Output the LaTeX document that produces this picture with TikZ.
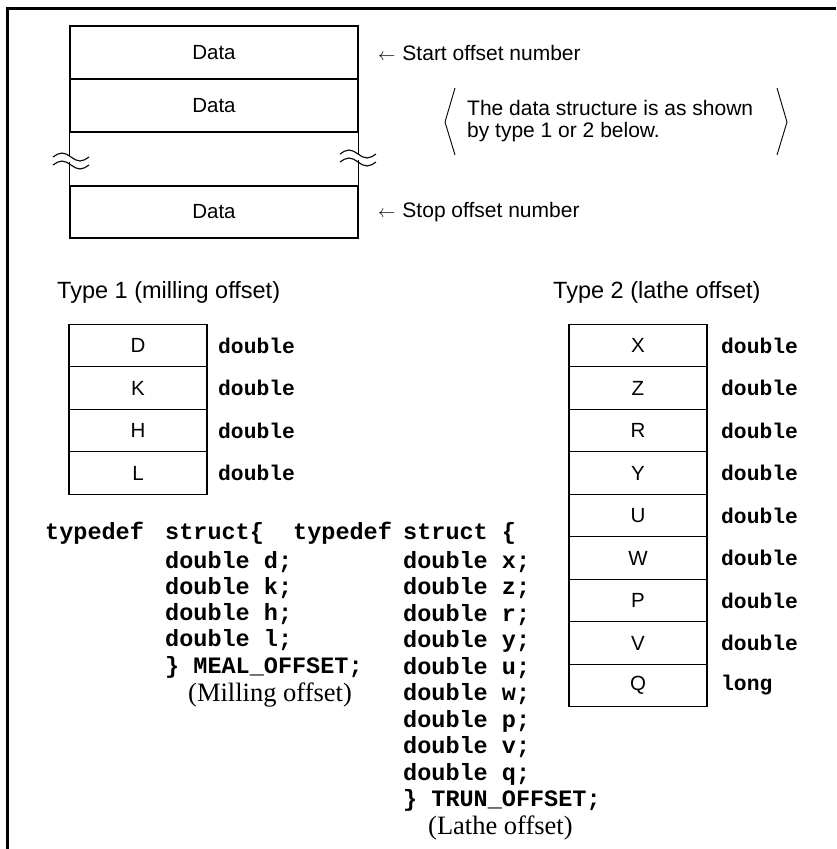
\documentclass[tikz,border=0pt]{standalone}
\usepackage{fontspec}
\setmainfont{Liberation Sans}
\newfontfamily\codefont{Liberation Mono}
\newfontfamily\seriffont{Liberation Serif}
\begin{document}
\begin{tikzpicture}[x=1pt,y=-1pt,
  bigcell/.style={draw, line width=1.1pt, minimum width=288pt, minimum height=53pt, inner sep=0pt, font=\fontsize{20.5}{24}\selectfont},
  cell/.style={draw, line width=1.1pt, minimum width=138pt, minimum height=42.5pt, inner sep=0pt, font=\fontsize{20.5}{24}\selectfont},
  body/.style={inner sep=0pt, anchor=west, font=\fontsize{21}{22}\selectfont},
  head/.style={inner sep=0pt, anchor=west, font=\fontsize{23.5}{26}\selectfont},
  tlabel/.style={inner sep=0pt, anchor=west, font=\codefont\bfseries\fontsize{21.3}{24}\selectfont},
  code/.style={inner sep=0pt, anchor=base west, font=\codefont\bfseries\fontsize{23.5}{26}\selectfont},
  cmt/.style={inner sep=0pt, anchor=base west, font=\seriffont\fontsize{26.5}{28}\selectfont},
  thin/.style={line width=1.1pt}
]
\useasboundingbox (0,0) rectangle (836,849);
\draw[line width=2.5pt] (7.5,849) -- (7.5,8.5) -- (836,8.5);

% top structure
\node[bigcell] (d1) at (214,52.5) {Data};
\node[bigcell] (d2) at (214,105.5) {Data};
\node[bigcell, minimum height=52pt] (d4) at (214,212) {Data};
\draw[thin] (d2.south west) -- ++(0,23);
\draw[thin] (d4.north west) -- ++(0,-23);
\draw[thin] (d2.south east) -- ++(0,21);
\draw[thin] (d4.north east) -- ++(0,-25);
% break marks
\draw[thin] (53,157) sin (62,153) cos (71,157) sin (80,161) cos (89,157);
\draw[thin] (53,165) sin (62,161) cos (71,165) sin (80,169) cos (89,165);
\draw[thin] (340,154) sin (349,150) cos (358,154) sin (367,158) cos (376,154);
\draw[thin] (340,162) sin (349,158) cos (358,162) sin (367,166) cos (376,162);

\node[body] (start) at (378,53) {{\fontsize{17}{17}\selectfont$\leftarrow$}\hspace{7pt}Start offset number};
\node[body] (stop) at (378,212) {{\fontsize{17}{17}\selectfont$\leftarrow$}\hspace{7pt}Stop offset number};
\node[body, align=left] (note) at (467,121) {The data structure is as shown\\by type 1 or 2 below.};
\draw[line width=0.9pt] (455,88) -- (445,122) -- (455,155);
\draw[line width=0.9pt] (777,88) -- (787,122) -- (777,155);

% type 1
\node[head] (h1) at (57,292) {Type 1 (milling offset)};
\node[cell] (D) at (138,345.5) {D};
\node[cell] (K) at (138,388) {K};
\node[cell] (H) at (138,430.5) {H};
\node[cell] (L) at (138,473) {L};
\foreach \n/\yy in {D/345.5,K/388,H/430.5,L/473}
  \node[tlabel] (t\n) at (218,\yy) {double};

% type 2
\node[head] (h2) at (553,292) {Type 2 (lathe offset)};
\foreach \n [count=\i from 0] in {X,Z,R,Y,U,W,P,V,Q}
  \node[cell] (\n) at (638,345.5+42.5*\i) {\n};
\foreach \n [count=\i from 0] in {X,Z,R,Y,U,W,P,V}
  \node[tlabel] (t\n) at (721,345.5+42.5*\i) {double};
\node[tlabel] (tQ) at (721,345.5+42.5*8) {long};

% code block 1
\node[code] (c1a) at (45,539) {typedef};
\node[code] (c1b) at (165,539) {struct\{};
\node[code] (c1d) at (165,568) {double d;};
\node[code] (c1k) at (165,594) {double k;};
\node[code] (c1h) at (165,620) {double h;};
\node[code] (c1l) at (165,646) {double l;};
\node[code] (c1e) at (165,673) {\} MEAL\_OFFSET;};
\node[cmt] (c1c) at (188,701) {(Milling offset)};

% code block 2
\node[code] (c2a) at (293,539) {typedef};
\node[code] (c2b) at (403,539) {struct \{};
\foreach \v [count=\i from 0] in {x,z,r,y,u,w,p,v,q}
  \node[code] (c2\v) at (403,568+26.5*\i) {double \v;};
\node[code] (c2e) at (403,806) {\} TRUN\_OFFSET;};
\node[cmt] (c2c) at (428,834) {(Lathe offset)};
\end{tikzpicture}
\end{document}
